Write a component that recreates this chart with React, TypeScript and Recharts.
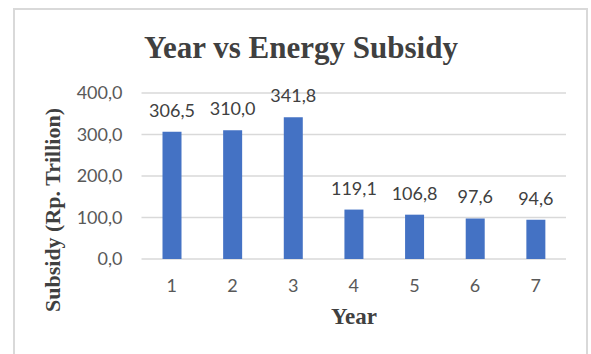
import { BarChart, Bar, XAxis, YAxis, CartesianGrid, LabelList } from "recharts";

const years = ["1", "2", "3", "4", "5", "6", "7"];
const subsidy = [306.5, 310.0, 341.8, 119.1, 106.8, 97.6, 94.6];
const yTicks = [0, 100, 200, 300, 400];
const bandEdges = [0, 1, 2, 3, 4, 5, 6, 7];

const data = years.map((year, i) => ({ year, subsidy: subsidy[i] }));

const formatComma = (v: number) => Number(v).toFixed(1).replace(".", ",");

const serif = "'Liberation Serif', 'Times New Roman', serif";
const sans = "Lato, 'Noto Sans', sans-serif";

export default function App() {
  return (
    <div style={{ position: "absolute", left: 0, top: 0, width: 591, height: 354, overflow: "hidden", background: "#fff" }}>
      {/* chart frame */}
      <div
        style={{
          position: "absolute",
          left: 13,
          top: 8,
          width: 575,
          height: 400,
          border: "2px solid #d9d9d9",
          boxSizing: "border-box",
        }}
      />

      <BarChart
        width={591}
        height={354}
        data={data}
        margin={{ top: 93, right: 25, bottom: 65, left: 81.5 }}
        style={{ position: "absolute", left: 0, top: 0 }}
      >
        <CartesianGrid xAxisId="cat" vertical={false} stroke="#d9d9d9" strokeWidth={1.5} />
        {/* boundary ticks between categories */}
        <XAxis
          xAxisId="edge"
          type="number"
          domain={[0, 7]}
          ticks={bandEdges}
          height={0}
          stroke="#d9d9d9"
          strokeWidth={1.5}
          tickSize={5}
          tickFormatter={() => ""}
          tickLine={{ stroke: "#d9d9d9", strokeWidth: 1.5 }}
        />
        <XAxis
          xAxisId="cat"
          dataKey="year"
          height={30}
          axisLine={false}
          tickLine={false}
          tickSize={0}
          tickMargin={20}
          tick={{ fill: "#595959", fontSize: 18, fontFamily: sans }}
        />
        <YAxis
          width={60}
          domain={[0, 400]}
          ticks={yTicks}
          axisLine={false}
          tickLine={false}
          tickSize={0}
          tickMargin={19}
          tickFormatter={formatComma}
          tick={{ fill: "#595959", fontSize: 18, fontFamily: sans }}
        />
        <Bar xAxisId="cat" dataKey="subsidy" fill="#4472c4" barSize={19} isAnimationActive={false}>
          <LabelList
            dataKey="subsidy"
            position="top"
            offset={15}
            formatter={(v: number) => formatComma(v)}
            fill="#404040"
            fontSize={18}
            fontFamily={sans}
          />
        </Bar>
      </BarChart>

      <div
        style={{
          position: "absolute",
          left: 0,
          top: 32,
          width: 602,
          textAlign: "center",
          fontFamily: serif,
          fontWeight: "bold",
          fontSize: 31,
          lineHeight: "31px",
          color: "#404040",
          whiteSpace: "nowrap",
        }}
      >
        Year vs Energy Subsidy
      </div>

      <div
        style={{
          position: "absolute",
          left: 0,
          top: 305,
          width: 708,
          textAlign: "center",
          fontFamily: serif,
          fontWeight: "bold",
          fontSize: 23,
          lineHeight: "23px",
          color: "#404040",
          whiteSpace: "nowrap",
        }}
      >
        Year
      </div>

      <div
        style={{
          position: "absolute",
          left: 53,
          top: 210,
          transform: "translate(-50%, -50%) rotate(-90deg)",
          fontFamily: serif,
          fontWeight: "bold",
          fontSize: 22,
          lineHeight: "22px",
          color: "#404040",
          whiteSpace: "nowrap",
        }}
      >
        Subsidy (Rp. Trillion)
      </div>
    </div>
  );
}
